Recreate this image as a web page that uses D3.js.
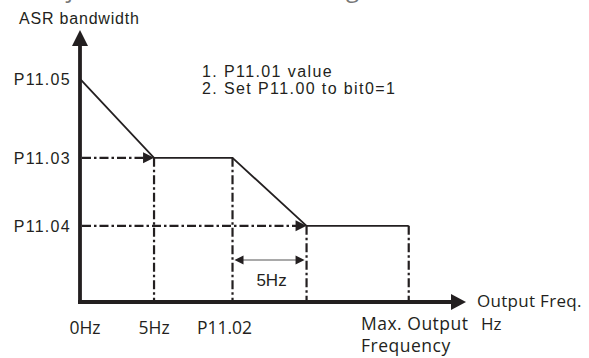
<!DOCTYPE html>
<html>
<head>
<meta charset="utf-8">
<script src="https://cdn.jsdelivr.net/npm/d3@7"></script>
<style>
body{margin:0;background:#fff;}
svg{display:block;}
</style>
</head>
<body>
<svg></svg>
<script>
// frequency (schematic Hz) and ASR bandwidth (schematic %) values
var freqTicks = [0, 5, 10.3];
var freqLabels = ["0Hz", "5Hz", "P11.02"];
var maxFreq = 22.2;
var bwTicks = [82, 53, 28];
var bwLabels = ["P11.05", "P11.03", "P11.04"];
var curveFreq = [0, 5, 10.3, 15.3, 22.2];
var curveBw = [82, 53, 53, 28, 28];
var spanFreq = [10.3, 15.3];
var spanLabel = "5Hz";
var notes = ["1. P11.01 value", "2. Set P11.00 to bit0=1"];

var width = 589, height = 358;
var ink = "#231f20";

var x = d3.scaleLinear().domain([0, 26]).range([80, 465]);
var y = d3.scaleLinear().domain([0, 100]).range([302, 30]);

var svg = d3.select("svg").attr("width", width).attr("height", height);

// cut-off line of body text at the very top
svg.append("text")
    .attr("x", -4).attr("y", -3)
    .attr("font-family", "Open Sans").attr("font-size", 24)
    .attr("fill", "#777")
    .text("will adjust the bandwidth setting, and the result is");

function tri(tx, ty, dir, len, half){
    // dir: "up", "right", "left"
    if(dir == "up") return "M" + tx + "," + ty + "L" + (tx - half) + "," + (ty + len) + "L" + (tx + half) + "," + (ty + len) + "Z";
    if(dir == "right") return "M" + tx + "," + ty + "L" + (tx - len) + "," + (ty - half) + "L" + (tx - len) + "," + (ty + half) + "Z";
    return "M" + tx + "," + ty + "L" + (tx + len) + "," + (ty - half) + "L" + (tx + len) + "," + (ty + half) + "Z";
}

// dashed guides
var dash = "9,3,2.5,3";
var guides = svg.append("g").attr("stroke", ink).attr("stroke-width", 2.2)
    .attr("stroke-dasharray", dash).attr("fill", "none");

var vGuides = [[5, 53], [10.3, 53], [15.3, 28], [maxFreq, 28]];
guides.selectAll(".v").data(vGuides).enter().append("line")
    .attr("x1", d=>x(d[0])).attr("x2", d=>x(d[0]))
    .attr("y1", d=>y(d[1])).attr("y2", y(0) - 2);

var hGuides = [[5, 53], [15.3, 28]];
guides.selectAll(".h").data(hGuides).enter().append("line")
    .attr("x1", x(0) + 2).attr("x2", d=>x(d[0]) - 8)
    .attr("y1", d=>y(d[1])).attr("y2", d=>y(d[1]));

svg.selectAll(".harrow").data(hGuides).enter().append("path")
    .attr("d", d=>tri(x(d[0]), y(d[1]), "right", 11, 5.5))
    .attr("fill", ink);

// the curve
var line = d3.line().x(d=>x(d[0])).y(d=>y(d[1]));
svg.append("path")
    .datum(curveFreq.map((f, i)=>[f, curveBw[i]]))
    .attr("d", line)
    .attr("fill", "none").attr("stroke", ink).attr("stroke-width", 1.8);

// axes
svg.append("line")
    .attr("x1", x(0)).attr("x2", x(0))
    .attr("y1", y(0) + 2).attr("y2", 44)
    .attr("stroke", ink).attr("stroke-width", 3.8);
svg.append("path").attr("d", tri(x(0), 30, "up", 16, 8)).attr("fill", ink);

svg.append("line")
    .attr("x1", x(0) - 2).attr("x2", 452)
    .attr("y1", y(0)).attr("y2", y(0))
    .attr("stroke", ink).attr("stroke-width", 3.8);
svg.append("path").attr("d", tri(466, y(0), "right", 15, 8)).attr("fill", ink);

// 5Hz span
var spanY = 260;
svg.append("line")
    .attr("x1", x(spanFreq[0]) + 4).attr("x2", x(spanFreq[1]) - 4)
    .attr("y1", spanY).attr("y2", spanY)
    .attr("stroke", "#555").attr("stroke-width", 1.2);
svg.append("path").attr("d", tri(x(spanFreq[0]) + 2, spanY, "left", 9, 4.5)).attr("fill", ink);
svg.append("path").attr("d", tri(x(spanFreq[1]) - 2, spanY, "right", 9, 4.5)).attr("fill", ink);
svg.append("text")
    .attr("x", (x(spanFreq[0]) + x(spanFreq[1])) / 2 + 2).attr("y", 286)
    .attr("text-anchor", "middle")
    .attr("font-family", "Liberation Sans").attr("font-size", 17)
    .attr("fill", ink).text(spanLabel);

// y labels
svg.selectAll(".ylab").data(bwTicks).enter().append("text")
    .attr("x", 71).attr("y", d=>y(d) + 6)
    .attr("text-anchor", "end")
    .attr("font-family", "Liberation Sans").attr("font-size", 16)
    .attr("letter-spacing", 1.3)
    .attr("fill", ink)
    .text((d, i)=>bwLabels[i]);

svg.append("text")
    .attr("x", 19).attr("y", 24)
    .attr("font-family", "Liberation Sans").attr("font-size", 16)
    .attr("letter-spacing", 0.8)
    .attr("fill", ink).text("ASR bandwidth");

// notes
svg.selectAll(".note").data(notes).enter().append("text")
    .attr("x", 202).attr("y", (d, i)=>77 + i * 17)
    .attr("font-family", "Liberation Sans").attr("font-size", 16)
    .attr("letter-spacing", 1.4)
    .attr("fill", ink).text(d=>d);

// x labels
var xOffsets = [5, 0, -8];
svg.selectAll(".xlab").data(freqTicks).enter().append("text")
    .attr("x", (d, i)=>x(d) + xOffsets[i]).attr("y", 334)
    .attr("text-anchor", "middle")
    .attr("font-family", "Open Sans").attr("font-size", 17.5)
    .attr("fill", ink)
    .text((d, i)=>freqLabels[i]);

svg.append("text")
    .attr("x", 361).attr("y", 330)
    .attr("font-family", "Open Sans").attr("font-size", 17.5)
    .attr("letter-spacing", 0.5)
    .attr("fill", ink).text("Max. Output");
svg.append("text")
    .attr("x", 361).attr("y", 352)
    .attr("font-family", "Open Sans").attr("font-size", 17.5)
    .attr("letter-spacing", 0.5)
    .attr("fill", ink).text("Frequency");

svg.append("text")
    .attr("x", 477).attr("y", 307)
    .attr("font-family", "Open Sans").attr("font-size", 17)
    .attr("letter-spacing", 0.3)
    .attr("fill", ink).text("Output Freq.");
svg.append("text")
    .attr("x", 481).attr("y", 330)
    .attr("font-family", "Open Sans").attr("font-size", 17)
    .attr("fill", ink).text("Hz");
</script>
</body>
</html>
